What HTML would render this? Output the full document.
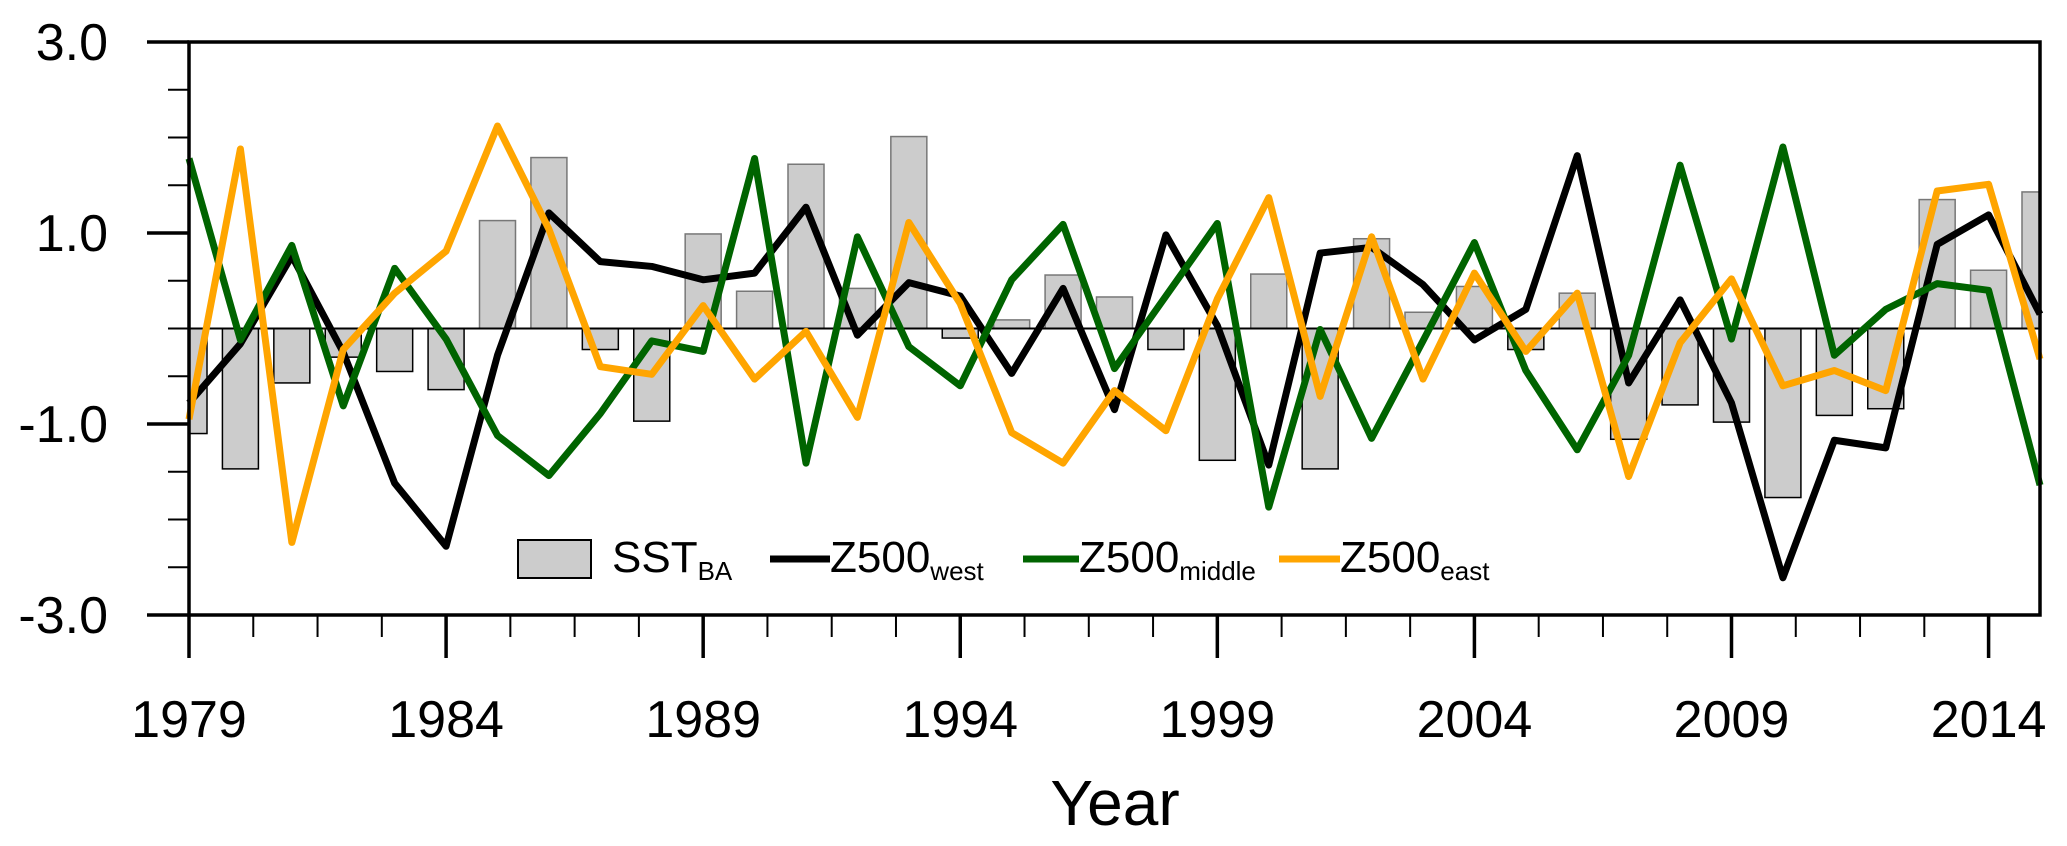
<!DOCTYPE html>
<html><head><meta charset="utf-8"><style>
html,body{margin:0;padding:0;background:#fff;}
svg{display:block;font-family:"Liberation Sans",Arial,sans-serif;}
</style></head><body>
<svg id="chart" width="2067" height="846" viewBox="0 0 2067 846">
<g id="bars"></g>
<line id="zero" stroke="#000" stroke-width="2"/>
<g id="lines"></g>
<g id="axes"></g>
<g id="legend">
  <rect x="518" y="540" width="73" height="38" fill="#cccccc" stroke="#000" stroke-width="2"/>
  <text x="612" y="572" font-size="44">SST<tspan font-size="26" dy="8">BA</tspan></text>
  <line x1="770" y1="559" x2="830" y2="559" stroke="#000" stroke-width="7"/>
  <text x="830" y="572" font-size="44">Z500<tspan font-size="26" dy="8">west</tspan></text>
  <line x1="1023" y1="559" x2="1079" y2="559" stroke="#006400" stroke-width="7"/>
  <text x="1079" y="572" font-size="44">Z500<tspan font-size="26" dy="8">middle</tspan></text>
  <line x1="1279" y1="559" x2="1340" y2="559" stroke="#FFA500" stroke-width="7"/>
  <text x="1340" y="572" font-size="44">Z500<tspan font-size="26" dy="8">east</tspan></text>
</g>
<text x="1115" y="825" font-size="64" text-anchor="middle">Year</text>
</svg>
<script>
const years = [];
for (let y = 1979; y <= 2015; y++) years.push(y);
const sst = [-1.10,-1.47,-0.57,-0.30,-0.45,-0.64,1.13,1.79,-0.22,-0.97,0.99,0.39,1.72,0.42,2.01,-0.10,0.09,0.56,0.33,-0.22,-1.38,0.57,-1.47,0.94,0.17,0.44,-0.22,0.37,-1.16,-0.80,-0.98,-1.77,-0.91,-0.84,1.35,0.61,1.43];
const west = [-0.78,-0.16,0.76,-0.25,-1.62,-2.28,-0.28,1.21,0.70,0.65,0.51,0.58,1.27,-0.07,0.48,0.34,-0.47,0.42,-0.85,0.98,0.03,-1.43,0.79,0.85,0.46,-0.12,0.20,1.81,-0.57,0.30,-0.78,-2.61,-1.17,-1.25,0.88,1.19,0.15];
const middle = [1.78,-0.12,0.87,-0.81,0.63,-0.11,-1.12,-1.54,-0.89,-0.13,-0.24,1.78,-1.41,0.96,-0.19,-0.60,0.51,1.09,-0.42,0.34,1.10,-1.87,-0.01,-1.15,-0.13,0.90,-0.44,-1.27,-0.28,1.71,-0.11,1.90,-0.28,0.20,0.47,0.40,-1.64];
const east = [-0.95,1.88,-2.24,-0.22,0.37,0.81,2.12,1.04,-0.40,-0.48,0.24,-0.53,-0.03,-0.93,1.11,0.26,-1.09,-1.41,-0.65,-1.07,0.31,1.37,-0.71,0.96,-0.53,0.58,-0.24,0.37,-1.55,-0.15,0.52,-0.60,-0.44,-0.65,1.44,1.51,-0.32];
const yTickLabels = ["3.0","1.0","-1.0","-3.0"];
const yTickValues = [3,1,-1,-3];
const xTickLabels = ["1979","1984","1989","1994","1999","2004","2009","2014"];

const NS = "http://www.w3.org/2000/svg";
const X0 = 189, X1 = 2040, Y0 = 42, Y1 = 615;
const xs = yr => X0 + (yr - 1979) * (X1 - X0) / 36;
const ys = v => Y0 + (3 - v) * (Y1 - Y0) / 6;
function mk(tag, attrs, parent) { const e = document.createElementNS(NS, tag); for (const k in attrs) e.setAttribute(k, attrs[k]); parent.appendChild(e); return e; }

const bars = document.getElementById('bars');
years.forEach((yr, i) => {
  const v = sst[i], x = xs(yr), bw = 36;
  let x0 = Math.max(X0, x - bw / 2), x1 = Math.min(X1, x + bw / 2);
  const r = mk('rect', {x: x0, y: Math.min(ys(v), ys(0)), width: x1 - x0, height: Math.abs(ys(v) - ys(0)), fill: '#cccccc', stroke: v < 0 ? '#000' : '#777', 'stroke-width': 1.5}, bars);
  
  
});
const z = document.getElementById('zero');
z.setAttribute('x1', X0); z.setAttribute('x2', X1); z.setAttribute('y1', ys(0)); z.setAttribute('y2', ys(0));

const lines = document.getElementById('lines');
[[west, '#000', 'west'], [middle, '#006400', 'middle'], [east, '#FFA500', 'east']].forEach(([d, c, n]) => {
  const p = mk('polyline', {points: years.map((yr, i) => xs(yr) + ',' + ys(d[i])).join(' '), fill: 'none', stroke: c, 'stroke-width': 7, 'stroke-linejoin': 'round'}, lines);
  
  
});

const ax = document.getElementById('axes');
const frame = mk('rect', {x: X0, y: Y0, width: X1 - X0, height: Y1 - Y0, fill: 'none', stroke: '#000', 'stroke-width': 3.5}, ax);


for (let v = -3; v <= 3.001; v += 0.5) {
  const major = Math.abs((v + 3) % 2) < 0.01;
  const t = mk('line', {x1: major ? 147 : 168, x2: X0, y1: ys(v), y2: ys(v), stroke: '#000', 'stroke-width': major ? 3.5 : 2}, ax);
  
  
}
yTickValues.forEach((v, i) => {
  const t = mk('text', {x: 108, y: ys(v) + 18, 'font-size': 52, 'text-anchor': 'end'}, ax);
  t.textContent = yTickLabels[i];
  
  
});
for (let k = 0; k * 1.25 <= 36.01; k++) {
  const yr = 1979 + k * 1.25, major = k % 4 === 0;
  const t = mk('line', {x1: xs(yr), x2: xs(yr), y1: Y1, y2: major ? 658 : 637, stroke: '#000', 'stroke-width': major ? 3.5 : 2}, ax);
  
  
}
xTickLabels.forEach(l => {
  const t = mk('text', {x: xs(+l), y: 737, 'font-size': 52, 'text-anchor': 'middle'}, ax);
  t.textContent = l;
  
  
});
</script>
</body></html>
